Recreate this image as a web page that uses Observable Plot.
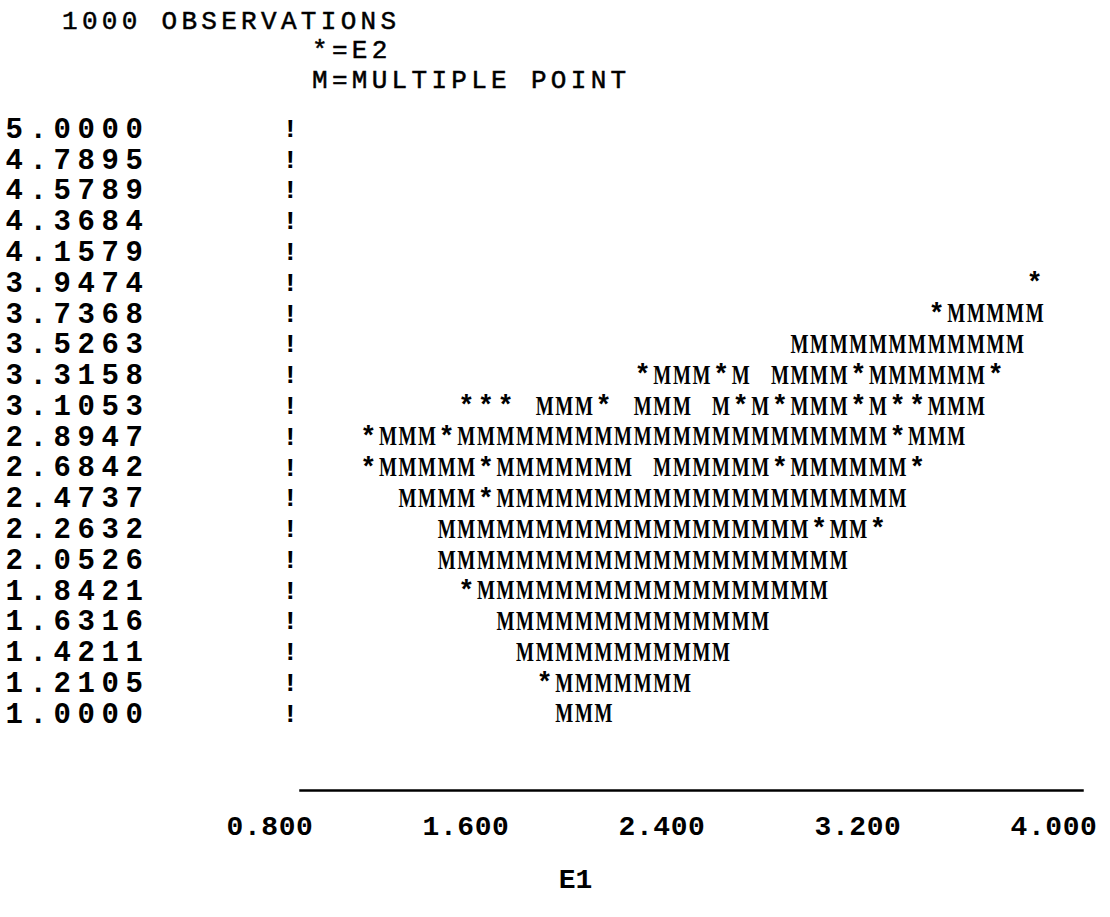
<!DOCTYPE html>
<html>
<head>
<meta charset="utf-8">
<script src="https://cdn.jsdelivr.net/npm/d3@7"></script>
<script src="https://cdn.jsdelivr.net/npm/@observablehq/plot@0.6"></script>
<style>
  html, body { margin: 0; padding: 0; background: #fff; }
  body { width: 1110px; height: 917px; overflow: hidden; color: #000; }
  #hdr { position: relative; height: 100px; }
  .h { position: absolute; font-family: "Liberation Mono", monospace; font-size: 26px; letter-spacing: 4.3px;
       white-space: pre; line-height: 1; -webkit-text-stroke: 0.5px #000; }
  #chart svg { display: block; }
  g[aria-description="ylabels"] text { letter-spacing: 6.6px; }
  g[aria-description="xticks"] text { letter-spacing: 0.6px; }
</style>
</head>
<body>
<div id="hdr">
  <div class="h" id="obs" style="left:62px; top:9px;"></div>
  <div class="h" id="leg1" style="left:312px; top:38px;"></div>
  <div class="h" id="leg2" style="left:312px; top:68px;"></div>
</div>
<div id="chart"></div>
<script>
// ---- data ----
const headerTitle = "1000 OBSERVATIONS";
const legendLines = ["*=E2", "M=MULTIPLE POINT"];
const xLabel = "E1";

// y row labels (top to bottom)
const yLabels = ["5.0000","4.7895","4.5789","4.3684","4.1579","3.9474","3.7368","3.5263","3.3158","3.1053",
                 "2.8947","2.6842","2.4737","2.2632","2.0526","1.8421","1.6316","1.4211","1.2105","1.0000"];
// E1 value of the first printed character of each row (null = empty row)
const rowStart = [null, null, null, null, null, 3.76, 3.36, 2.80, 2.16, 1.44,
                  1.04, 1.04, 1.20, 1.36, 1.36, 1.44, 1.60, 1.68, 1.76, 1.84];
// printed characters of each row ("*" = E2 single point, "M" = multiple point, " " = empty column)
const rowText = [
  "", "", "", "", "",
  "*",
  "*MMMMM",
  "MMMMMMMMMMMM",
  "*MMM*M MMMM*MMMMMM*",
  "*** MMM* MMM M*M*MMM*M**MMM",
  "*MMM*MMMMMMMMMMMMMMMMMMMMMM*MMM",
  "*MMMMM*MMMMMMM MMMMMM*MMMMMM*",
  "MMMM*MMMMMMMMMMMMMMMMMMMMM",
  "MMMMMMMMMMMMMMMMMMM*MM*",
  "MMMMMMMMMMMMMMMMMMMMM",
  "*MMMMMMMMMMMMMMMMMM",
  "MMMMMMMMMMMMMM",
  "MMMMMMMMMMM",
  "*MMMMMMM",
  "MMM"
];
const colStep = 0.08;           // E1 width of one print column
const xTicks = [0.8, 1.6, 2.4, 3.2, 4.0];
const xDomain = [0.8, 4.0];
const yDomain = [1, 5];

// ---- build tables ----
document.getElementById("obs").textContent = headerTitle;
document.getElementById("leg1").textContent = legendLines[0];
document.getElementById("leg2").textContent = legendLines[1];

const rows = yLabels.map((label, i) => ({label, value: +label, start: rowStart[i], text: rowText[i]}));
const cells = rows.flatMap(r => r.start == null ? [] :
  Array.from(r.text).map((ch, j) => ({x: r.start + j * colStep, y: r.value, ch})).filter(c => c.ch !== " "));

const chart = Plot.plot({
  width: 1110,
  height: 817,
  marginLeft: 300,
  marginRight: 28,
  marginTop: 28,
  marginBottom: 127,
  x: {domain: xDomain, range: [309, 1093]},
  y: {domain: yDomain, range: [613, 28], axis: null},
  style: {background: "#fff", color: "#000", fontFamily: "Liberation Mono", overflow: "visible"},
  marks: [
    Plot.frame({anchor: "bottom", strokeWidth: 2.5}),
    Plot.axisX({ticks: xTicks, tickFormat: d3.format(".3f"), tickSize: 0, tickPadding: 25,
                textAnchor: "end", dx: 4, fontSize: 28, fontWeight: "bold", label: null,
                ariaDescription: "xticks"}),
    Plot.text(rows, {y: "value", text: "label", frameAnchor: "left", textAnchor: "start", dx: -295,
                     fontSize: 29, fontWeight: "bold", ariaDescription: "ylabels"}),
    Plot.text(rows, {y: "value", text: () => "!", frameAnchor: "left", dx: -18,
                     fontSize: 26, fontWeight: "bold"}),
    Plot.text(cells.filter(c => c.ch === "M"), {x: "x", y: "y", text: "ch",
                     fontFamily: "Liberation Serif", fontSize: 28, fontWeight: "bold",
                     ariaDescription: "mpoints"}),
    Plot.text(cells.filter(c => c.ch === "*"), {x: "x", y: "y", text: "ch",
                     fontFamily: "Liberation Mono", fontSize: 27, fontWeight: "bold"}),
    Plot.text([xLabel], {frameAnchor: "bottom", text: d => d, dx: -116, dy: 97,
                     fontSize: 28, fontWeight: "bold"})
  ]
});
// condense the M glyphs horizontally about their own anchor so they fill one print column
chart.querySelectorAll('g[aria-description="mpoints"] text').forEach(t => {
  const tr = t.getAttribute("transform") || "";
  t.setAttribute("transform", (tr + " scale(0.68,1)").trim());
});
document.getElementById("chart").appendChild(chart);
</script>
</body>
</html>
